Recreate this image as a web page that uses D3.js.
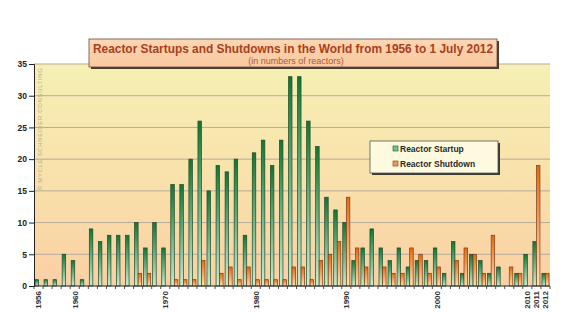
<!DOCTYPE html>
<html><head><meta charset="utf-8">
<script src="https://cdn.jsdelivr.net/npm/d3@7"></script>
<style>html,body{margin:0;padding:0;background:#fff;}svg{display:block;font-family:"Liberation Sans",Arial,sans-serif;}</style>
</head><body>
<script>
const years = d3.range(1956, 2013);
const startups = [1,1,1,5,4,1,9,7,8,8, 8,10,6,10,6,16,16,20,26,15, 19,18,20,8,21,23,19,23,33,33, 26,22,14,12,10,4,6,9,6,4, 6,3,4,4,6,2,7,2,5,4, 2,3,0,2,5,7,2];
const shutdowns = [0,0,0,0,0,0,0,0,0,0, 0,2,2,0,0,1,1,1,4,0, 2,3,1,3,1,1,1,1,3,3, 1,4,5,7,14,6,3,0,3,2, 2,6,5,2,3,0,4,6,5,2, 8,0,3,2,0,19,2];
const yTicks = [0,5,10,15,20,25,30,35];
const xLabels = [1956,1960,1970,1980,1990,2000,2010,2011,2012];
const seriesNames = ["Reactor Startup","Reactor Shutdown"];
const titleText = "Reactor Startups and Shutdowns in the World from 1956 to 1 July 2012";
const subtitleText = "(in numbers of reactors)";
const watermark = "© MYCLE SCHNEIDER CONSULTING";

(function(){
const W = 576, H = 332;
const svg = d3.select("body").append("svg").attr("width", W).attr("height", H);
const defs = svg.append("defs");

const bg = defs.append("linearGradient").attr("id","bg").attr("x1",0).attr("y1",0).attr("x2",0).attr("y2",1);
bg.append("stop").attr("offset","0%").attr("stop-color","#f6f0b4");
bg.append("stop").attr("offset","55%").attr("stop-color","#f9e0aa");
bg.append("stop").attr("offset","100%").attr("stop-color","#fbcfa4");

const gG = defs.append("linearGradient").attr("id","gGreen").attr("x1",0).attr("y1",0).attr("x2",0).attr("y2",1);
gG.append("stop").attr("offset","0%").attr("stop-color","#127632");
gG.append("stop").attr("offset","100%").attr("stop-color","#c8eed2");
const gO = defs.append("linearGradient").attr("id","gOrange").attr("x1",0).attr("y1",0).attr("x2",0).attr("y2",1);
gO.append("stop").attr("offset","0%").attr("stop-color","#e8680f");
gO.append("stop").attr("offset","100%").attr("stop-color","#fde0b0");
const tG = defs.append("linearGradient").attr("id","gTitle").attr("x1",0).attr("y1",0).attr("x2",0).attr("y2",1);
tG.append("stop").attr("offset","0%").attr("stop-color","#fcd6b4");
tG.append("stop").attr("offset","100%").attr("stop-color","#f9c9a0");

const pL = 34, pR = 550, pT = 64, pB = 286;
const x = d3.scaleBand().domain(years).range([pL, pR]).padding(0);
const xi = d3.scaleBand().domain(["s","d"]).range([0, x.bandwidth()]).paddingInner(0).paddingOuter(0.28);
const y = d3.scaleLinear().domain([0, 35]).range([pB, pT]);

svg.append("rect").attr("x", pL).attr("y", pT).attr("width", pR-pL).attr("height", pB-pT).attr("fill","url(#bg)");

svg.append("g").selectAll("line").data(yTicks.filter(d=>d>0)).join("line")
  .attr("x1", pL).attr("x2", pR).attr("y1", d=>y(d)).attr("y2", d=>y(d))
  .attr("stroke","#b5ab98").attr("stroke-width",1);

svg.append("text").attr("transform", `translate(42,190) rotate(-90)`)
  .attr("font-size", 6).attr("fill","#b8ae8c").attr("textLength",122).attr("lengthAdjust","spacing")
  .text(watermark);

const sData = years.map((yr,i)=>({yr, v:startups[i]})).filter(d=>d.v>0);
const dData = years.map((yr,i)=>({yr, v:shutdowns[i]})).filter(d=>d.v>0);
const g = svg.append("g");
g.selectAll("rect.s").data(sData).join("rect").attr("class","s")
  .attr("x", d=>x(d.yr)+xi("s")).attr("width", xi.bandwidth())
  .attr("y", d=>y(d.v)).attr("height", d=>pB - y(d.v))
  .attr("fill","url(#gGreen)").attr("stroke","#1f4a2c").attr("stroke-width",0.7);
g.selectAll("rect.d").data(dData).join("rect").attr("class","d")
  .attr("x", d=>x(d.yr)+xi("d")).attr("width", xi.bandwidth())
  .attr("y", d=>y(d.v)).attr("height", d=>pB - y(d.v))
  .attr("fill","url(#gOrange)").attr("stroke","#7a3e1a").attr("stroke-width",0.7);

const yAxis = svg.append("g").attr("transform",`translate(${pL},0)`)
  .call(d3.axisLeft(y).tickValues(yTicks).tickSize(5).tickPadding(2));
yAxis.select(".domain").attr("stroke","#222");
yAxis.selectAll(".tick line").attr("stroke","#222");
yAxis.selectAll("text").attr("font-size",8.5).attr("font-weight","bold").attr("fill","#222")
  .attr("font-family","Liberation Sans, Arial, sans-serif");

const xAxisG = svg.append("g");
xAxisG.append("line").attr("x1",pL).attr("x2",pR).attr("y1",pB).attr("y2",pB).attr("stroke","#222");
xAxisG.selectAll("line.t").data(years.concat([2013])).join("line").attr("class","t")
  .attr("x1", d=> d===2013 ? pR : x(d)).attr("x2", d=> d===2013 ? pR : x(d))
  .attr("y1", pB).attr("y2", pB+3).attr("stroke","#222").attr("stroke-width",0.8);
xAxisG.selectAll("text").data(xLabels).join("text")
  .attr("transform", d=>`translate(${x(d)+x.bandwidth()/2+2.9},${pB+5}) rotate(-90)`)
  .attr("text-anchor","end").attr("font-size",8).attr("font-weight","bold").attr("fill","#333")
  .text(d=>d);

svg.append("rect").attr("x",91).attr("y",41).attr("width",408).attr("height",28).attr("fill","#4a3a30");
svg.append("rect").attr("x",89).attr("y",39).attr("width",408).attr("height",28).attr("fill","url(#gTitle)").attr("stroke","#6a4a3a").attr("stroke-width",0.8);
svg.append("text").attr("x",293).attr("y",52.5).attr("text-anchor","middle").attr("font-size",12).attr("font-weight","bold")
  .attr("fill","#a8401c").attr("textLength",400).attr("lengthAdjust","spacingAndGlyphs").text(titleText);
svg.append("text").attr("x",296).attr("y",64).attr("text-anchor","middle").attr("font-size",9)
  .attr("fill","#a85a38").text(subtitleText);

svg.append("rect").attr("x",372).attr("y",143).attr("width",128).attr("height",32).attr("fill","#3a3a30");
svg.append("rect").attr("x",370).attr("y",141).attr("width",128).attr("height",32).attr("fill","#fdfae0").attr("stroke","#555").attr("stroke-width",0.8);
const legStroke = ["#1f4a2c","#7a3e1a"];
const leg = svg.append("g").selectAll("g").data(seriesNames).join("g")
  .attr("transform",(d,i)=>`translate(393,${146+i*15})`);
leg.append("rect").attr("width",5).attr("height",5).attr("fill",(d,i)=>i===0?"#6cc88a":"#f39a50").attr("stroke",(d,i)=>legStroke[i]).attr("stroke-width",0.6);
leg.append("text").attr("x",7).attr("y",6).attr("font-size",8.5).attr("font-weight","bold").attr("fill","#2a2a2a").text(d=>d);
})();
</script>
</body></html>
